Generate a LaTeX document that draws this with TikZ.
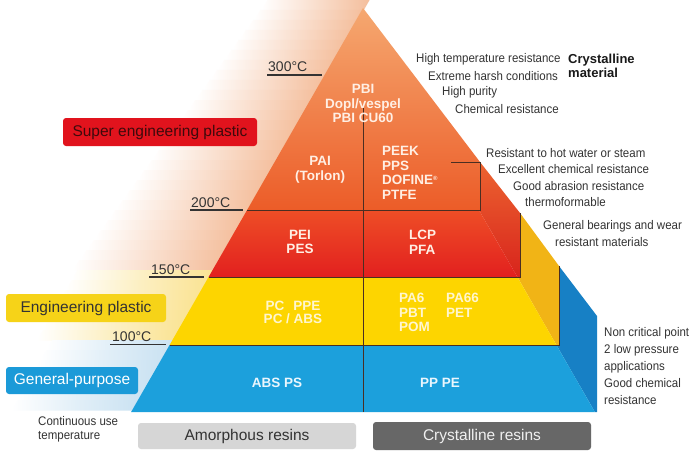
\documentclass[tikz,border=0pt]{standalone}
\usepackage{fontspec}
\setmainfont{Liberation Sans}
\newfontfamily\narrowfont[FakeStretch=0.92]{Liberation Sans}
\definecolor{orTop}{HTML}{F5A870}
\definecolor{orBot}{HTML}{EC5C28}
\definecolor{rdTop}{HTML}{EE4E26}
\definecolor{rdBot}{HTML}{E2201F}
\definecolor{rdSTop}{HTML}{EC6430}
\definecolor{rdSBot}{HTML}{D8241C}
\definecolor{ylw}{HTML}{FDD500}
\definecolor{ylwS}{HTML}{F1B416}
\definecolor{blu}{HTML}{1CA0DC}
\definecolor{bluS}{HTML}{1780C5}
\definecolor{lineC}{HTML}{4A2E22}
\definecolor{glowP}{HTML}{F4BE9C}
\definecolor{glowY}{HTML}{FAE393}
\definecolor{glowB}{HTML}{CAE2F2}
\definecolor{labR}{HTML}{E1131D}
\definecolor{labRtxt}{HTML}{3E0A0C}
\definecolor{labY}{HTML}{F6D318}
\definecolor{labB}{HTML}{1B9AD8}
\definecolor{amo}{HTML}{D6D6D6}
\definecolor{cry}{HTML}{676767}
\definecolor{txtC}{HTML}{333333}
\definecolor{onRed}{HTML}{FFEFE4}
\definecolor{onYlw}{HTML}{FFF6CF}
\definecolor{onBlu}{HTML}{EAF6FD}
\begin{document}
\begin{tikzpicture}[x=1pt,y=-1pt,
  plab/.style={font=\fontsize{13.5}{14.6}\selectfont\bfseries, align=center, inner sep=0pt},
  rtxt/.style={font=\narrowfont\fontsize{12.5}{17}\selectfont, text=txtC, anchor=west, inner sep=0pt},
  temp/.style={font=\fontsize{14}{14}\selectfont, text=txtC, anchor=south west, inner sep=0pt},
  uline/.style={draw=txtC, line width=1.2pt},
  boxline/.style={draw=lineC, line width=0.8pt},
  labbox/.style={rounded corners=3pt, inner sep=0pt, font=\fontsize{15.5}{15.5}\selectfont}
]
\useasboundingbox (0,0) rectangle (691,452);
\fill[white] (0,0) rectangle (691,452);

% ---- soft glow along the left side ----
\foreach \i in {0,...,26} {
  \pgfmathsetmacro\ya{\i*10}
  \pgfmathsetmacro\yb{\ya+10.6}
  \pgfmathsetmacro\xa{363-0.574*(\ya-8)}
  \pgfmathsetmacro\xb{363-0.574*(\yb-8)}
  \pgfmathsetmacro\w{100+0.15*\ya}
  \shade[left color=white, right color=glowP, middle color=glowP!50!white]
    (\xb-\w,\yb) -- (\xa-\w,\ya) -- (\xa+2,\ya) -- (\xb+2,\yb) -- cycle;
}
\foreach \i in {27,...,33} {
  \pgfmathsetmacro\ya{\i*10}
  \pgfmathsetmacro\yb{\ya+10.6}
  \pgfmathsetmacro\xa{363-0.574*(\ya-8)}
  \pgfmathsetmacro\xb{363-0.574*(\yb-8)}
  \shade[left color=white, right color=glowY, middle color=glowY!55!white]
    (\xb-135,\yb) -- (\xa-135,\ya) -- (\xa+2,\ya) -- (\xb+2,\yb) -- cycle;
}
\foreach \i in {34,...,40} {
  \pgfmathsetmacro\ya{\i*10}
  \pgfmathsetmacro\yb{min(\ya+10.6,412)}
  \pgfmathsetmacro\xa{363-0.574*(\ya-8)}
  \pgfmathsetmacro\xb{363-0.574*(\yb-8)}
  \shade[left color=white, right color=glowB, middle color=glowB!55!white]
    (\xb-120,\yb) -- (\xa-120,\ya) -- (\xa+2,\ya) -- (\xb+2,\yb) -- cycle;
}

% ---- side faces ----
\fill[bluS] (559,266) -- (597,316) -- (597,412) -- (594.9,412) -- (556.4,345) -- (559,345) -- cycle;
\fill[ylwS] (520,213) -- (559,266) -- (559,345) -- (556.4,345) -- (517.4,277) -- (520,277) -- cycle;
\shade[top color=rdSTop, bottom color=rdSBot] (480,162) -- (520,213) -- (520,277) -- (517.4,277) -- (478.9,210) -- (480,210) -- cycle;

% ---- front faces (top one includes its right sliver) ----
\shade[top color=orTop, bottom color=orBot] (363,8) -- (480,162) -- (480,210) -- (247.1,210) -- cycle;
\shade[top color=rdTop, bottom color=rdBot] (247.1,210) -- (478.9,210) -- (517.4,277) -- (208.6,277) -- cycle;
\fill[ylw] (208.6,277) -- (517.4,277) -- (556.4,345) -- (169.6,345) -- cycle;
\fill[blu] (169.6,345) -- (556.4,345) -- (594.9,412) -- (131.1,412) -- cycle;

% ---- box outlines and divider ----
\draw[boxline] (247.1,210) -- (480,210) -- (480,162) -- (451.4,162);
\draw[boxline] (208.6,277) -- (520,277) -- (520,213);
\draw[boxline] (169.6,345) -- (559,345) -- (559,266);
\draw[boxline] (363,108) -- (363,412);

% ---- labels inside the pyramid ----
\node[plab, text=onRed] (pbi) at (363,103.5) {PBI\\Dopl/vespel\\PBI CU60};
\node[plab, text=onRed] (pai) at (320,170) {PAI\\(Torlon)};
\node[plab, text=onRed, align=left, anchor=west] (peek) at (382,173)
  {PEEK\\PPS\\DOFINE\raisebox{0.3em}{\fontsize{6}{6}\selectfont ®}\\PTFE};
\node[plab, text=onRed] (pei) at (300,242) {PEI\\PES};
\node[plab, text=onRed, align=left, anchor=west] (lcp) at (409,242) {LCP\\PFA};
\node[plab, text=onYlw, font=\fontsize{13.5}{13.2}\selectfont\bfseries] (pc) at (293,312.5) {PC\hspace{9pt}PPE\\PC / ABS};
\node[plab, text=onYlw, align=left, anchor=west] (pa6) at (399,312.5) {PA6\\PBT\\POM};
\node[plab, text=onYlw, align=left, anchor=west] (pa66) at (446,305.5) {PA66\\PET};
\node[plab, text=onBlu] (abs) at (277,383) {ABS PS};
\node[plab, text=onBlu] (pp) at (440,383) {PP PE};

% ---- temperature marks ----
\coordinate (u3a) at (267,75);   \coordinate (u3b) at (322,75);
\coordinate (u2a) at (190,210);  \coordinate (u2b) at (243,210);
\coordinate (u15a) at (149,277); \coordinate (u15b) at (204,277);
\coordinate (u1a) at (110,344.5);\coordinate (u1b) at (166,344.5);
\draw[uline] (u3a) -- (u3b);
\draw[uline] (u2a) -- (u2b);
\draw[uline] (u15a) -- (u15b);
\draw[uline] (u1a) -- (u1b);
\node[temp] (t300) at (268,72) {300°C};
\node[temp] (t200) at (191,207.5) {200°C};
\node[temp] (t150) at (151,275) {150°C};
\node[temp] (t100) at (112,342) {100°C};

% ---- right-hand descriptions ----
\node[rtxt] (r1) at (416,59) {High temperature resistance};
\node[rtxt] (r2) at (428,75.7) {Extreme harsh conditions};
\node[rtxt] (r3) at (442,92.3) {High purity};
\node[rtxt] (r4) at (455,109) {Chemical resistance};
\node[anchor=west, align=left, inner sep=0pt, text=black!90,
  font=\fontsize{13}{14}\selectfont\bfseries] (cm) at (568,66.3) {Crystalline\\material};
\node[rtxt] (r5) at (486,153.3) {Resistant to hot water or steam};
\node[rtxt] (r6) at (498,169.3) {Excellent chemical resistance};
\node[rtxt] (r7) at (513,185.7) {Good abrasion resistance};
\node[rtxt] (r8) at (525,202.3) {thermoformable};
\node[rtxt] (r9) at (543,226.7) {General bearings and wear};
\node[rtxt] (r10) at (555,242.3) {resistant materials};
\node[rtxt, align=left] (nc) at (604,366) {Non critical point\\2 low pressure\\applications\\Good chemical\\resistance};

% ---- left category boxes ----
\node[labbox, fill=labR, text=labRtxt, minimum width=194pt, minimum height=28pt] (sep) at (160,132) {Super engineering plastic};
\node[labbox, fill=labY, text=txtC, minimum width=160pt, minimum height=28pt] (ep) at (86,308) {Engineering plastic};
\node[labbox, fill=labB, text=white, minimum width=132pt, minimum height=27pt] (gp) at (72,380.5) {General-purpose};

% ---- bottom ----
\node[rtxt, align=left, font=\narrowfont\fontsize{12.5}{14}\selectfont] (cut) at (38,429.7) {Continuous use\\temperature};
\node[labbox, fill=amo, text=txtC, minimum width=218pt, minimum height=26pt] (amr) at (247,436) {Amorphous resins};
\node[labbox, fill=cry, text=white!94!black, minimum width=218pt, minimum height=28pt] (crr) at (482,436) {Crystalline resins};
\end{tikzpicture}
\end{document}
